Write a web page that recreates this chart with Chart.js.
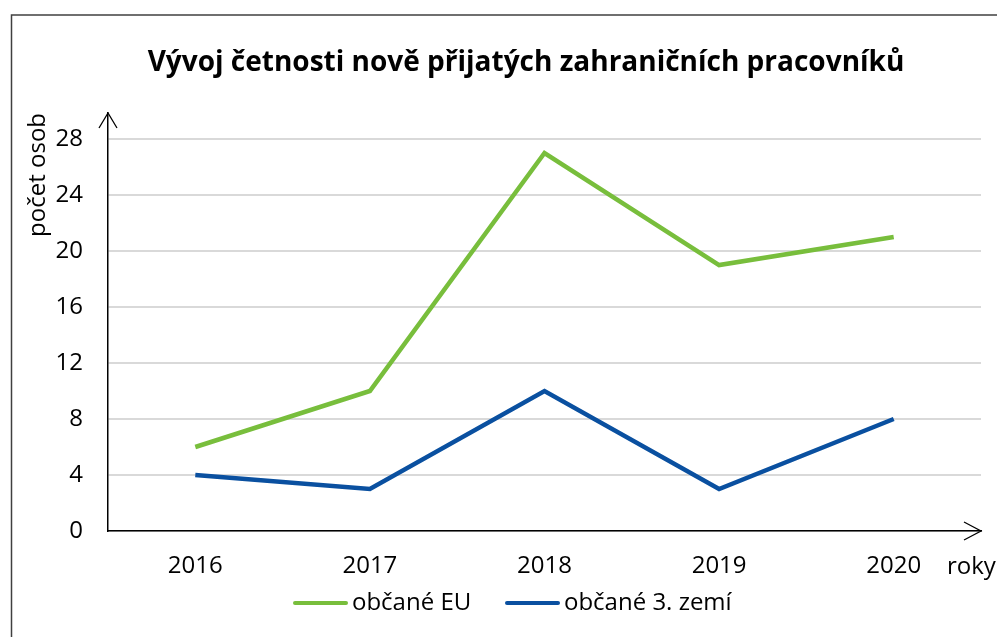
<!DOCTYPE html>
<html>
<head>
<meta charset="utf-8">
<script src="https://cdn.jsdelivr.net/npm/chart.js@4/dist/chart.umd.min.js"></script>
<style>
  html, body { margin: 0; padding: 0; background: #fff; }
  #wrap { width: 997px; height: 637px; }
</style>
</head>
<body>
<div id="wrap"><canvas id="chart" width="997" height="637"></canvas></div>
<script>
const years = ['2016', '2017', '2018', '2019', '2020'];
const eu = [6, 10, 27, 19, 21];
const thirdCountries = [4, 3, 10, 3, 8];
const yTicks = [0, 4, 8, 12, 16, 20, 24, 28];

const FONT = "'Open Sans', 'Noto Sans', sans-serif";
const GREEN = '#78be3c';
const BLUE = '#0a50a0';

// frame, title, axis arrows, 'roky' and the legend
const extras = {
  id: 'extras',
  afterDraw(chart) {
    const ctx = chart.ctx;
    const area = chart.chartArea;
    const xAxisY = chart.scales.y.getPixelForValue(0);
    ctx.save();

    // outer frame (cut off at right and bottom)
    ctx.strokeStyle = '#404040';
    ctx.lineWidth = 1.5;
    ctx.beginPath();
    ctx.moveTo(11.5, 640);
    ctx.lineTo(11.5, 15);
    ctx.lineTo(1000, 15);
    ctx.stroke();

    // title
    ctx.fillStyle = '#000';
    ctx.font = 'bold 28px ' + FONT;
    ctx.textAlign = 'center';
    ctx.textBaseline = 'alphabetic';
    ctx.fillText('Vývoj četnosti nově přijatých zahraničních pracovníků', 526, 71);

    // arrow heads
    ctx.strokeStyle = '#000';
    ctx.lineWidth = 1.3;
    ctx.beginPath();
    ctx.moveTo(area.left - 9, area.top + 15);
    ctx.lineTo(area.left, area.top);
    ctx.lineTo(area.left + 9, area.top + 15);
    ctx.moveTo(area.right - 17, xAxisY - 9);
    ctx.lineTo(area.right, xAxisY);
    ctx.lineTo(area.right - 17, xAxisY + 9);
    ctx.stroke();

    // x axis name
    ctx.font = '24px ' + FONT;
    ctx.textAlign = 'left';
    ctx.textBaseline = 'middle';
    ctx.fillText('roky', 947, 567);

    // legend
    const items = chart.data.datasets;
    const startX = [293, 505];
    const legendY = 603;
    items.forEach((ds, i) => {
      const x = startX[i];
      ctx.strokeStyle = ds.borderColor;
      ctx.lineWidth = 4;
      ctx.lineCap = 'round';
      ctx.beginPath();
      ctx.moveTo(x + 2, legendY);
      ctx.lineTo(x + 53, legendY);
      ctx.stroke();
      ctx.fillStyle = '#000';
      ctx.fillText(ds.label, x + 59, legendY);
    });

    ctx.restore();
  }
};

new Chart(document.getElementById('chart'), {
  type: 'line',
  data: {
    labels: years,
    datasets: [{
      label: 'občané EU',
      data: eu,
      borderColor: GREEN,
      backgroundColor: GREEN,
      borderWidth: 4.5,
      pointRadius: 0,
      tension: 0
    }, {
      label: 'občané 3. zemí',
      data: thirdCountries,
      borderColor: BLUE,
      backgroundColor: BLUE,
      borderWidth: 4.5,
      pointRadius: 0,
      tension: 0
    }]
  },
  options: {
    responsive: false,
    animation: false,
    events: [],
    layout: {
      padding: { left: 14, right: 16, top: 113, bottom: 0 }
    },
    plugins: {
      legend: { display: false },
      title: { display: false },
      tooltip: { enabled: false }
    },
    scales: {
      x: {
        type: 'category',
        offset: true,
        grid: { display: false, drawTicks: false },
        border: { color: '#000', width: 1.5 },
        ticks: {
          color: '#000',
          padding: 21,
          font: { family: FONT, size: 24 }
        },
        afterFit(scale) { scale.height = 637 - 531; }
      },
      y: {
        min: 0,
        max: 29.86,
        afterBuildTicks(scale) {
          scale.ticks = yTicks.map(v => ({ value: v }));
        },
        grid: { color: '#d9d9d9', lineWidth: 2, drawTicks: false },
        border: { color: '#000', width: 1.5 },
        ticks: {
          color: '#000',
          padding: 25,
          font: { family: FONT, size: 24 }
        },
        title: {
          display: true,
          text: 'počet osob',
          align: 'end',
          color: '#000',
          padding: { top: 10, bottom: 0 },
          font: { family: FONT, size: 24 }
        },
        afterFit(scale) { scale.width = 108 - 14; }
      }
    }
  },
  plugins: [extras]
});
</script>
</body>
</html>
